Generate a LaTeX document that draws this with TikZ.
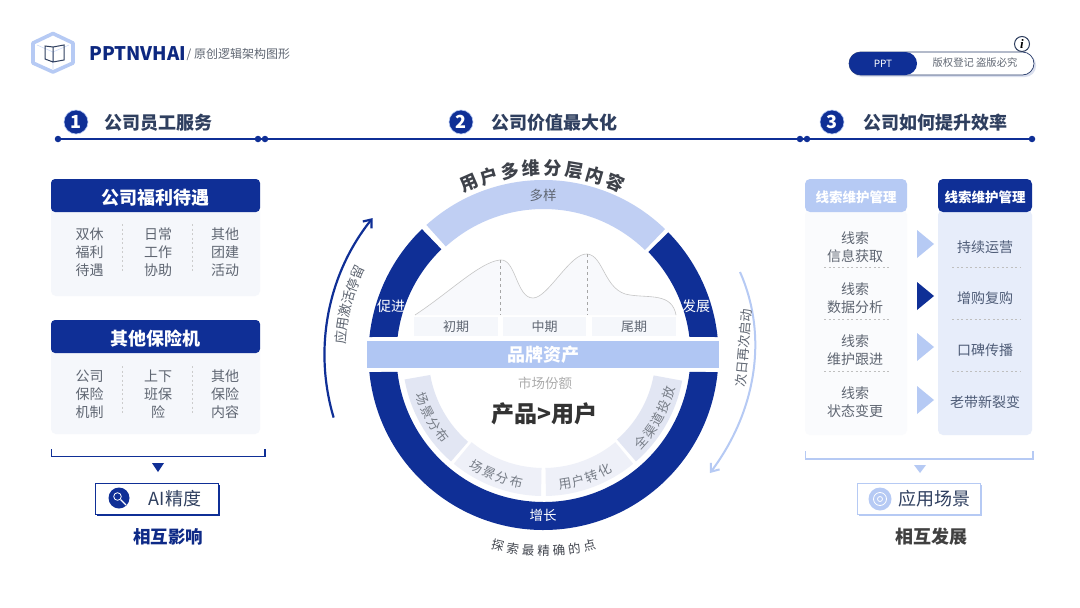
\documentclass[tikz,border=0pt]{standalone}
\usepackage{fontspec}
\setmainfont{Noto Sans CJK SC}
\newfontfamily\infofont{Liberation Serif}
\usetikzlibrary{arrows.meta}
\definecolor{brand}{HTML}{0F2F96}
\definecolor{brandlight}{HTML}{B6CAF4}
\definecolor{arcfill}{HTML}{C0CFF3}
\definecolor{barfill}{HTML}{B0C6F3}
\definecolor{cardfill}{HTML}{F5F7FB}
\definecolor{colfill}{HTML}{E7EDFA}
\definecolor{inkdark}{HTML}{2F3F5F}
\definecolor{inkgray}{HTML}{5F6672}
\newcommand{\px}[2]{\fontsize{#1}{#2}\selectfont}
% one rotated node per character, along a circle round the wheel centre
\newcommand{\arctext}[7]{%
  \foreach \ch [count=\k from 0] in {#7} {
    \pgfmathsetmacro{\ang}{#3+\k*#4}
    \node[#5,rotate=\ang+#6] (#1\k) at (\ang:#2) {\ch};
  }}
\tikzset{
  head/.style={fill=brand,text=white,rounded corners=4pt,font=\px{18}{22}\bfseries,minimum width=209pt,minimum height=33pt,inner sep=0,text height=20pt,text depth=2.2pt},
  body/.style={fill=cardfill,rounded corners=5pt,minimum width=209pt,inner sep=0},
  cell/.style={align=center,text=inkgray,font=\px{14}{18},inner sep=0},
  dot/.style={circle,fill=brand,minimum size=6.5pt,inner sep=0},
  num/.style={circle,fill=brand,draw=brandlight,line width=.6pt,text=white,minimum size=24pt,inner sep=0,font=\px{18}{20}\bfseries},
  title/.style={text=inkdark,font=\px{18}{20}\bfseries,inner sep=0},
  stage/.style={fill=cardfill,minimum height=19pt,inner sep=0,text=inkgray,font=\px{13}{15}},
  chip/.style={fill=white,inner sep=0,minimum width=123pt,minimum height=31pt,line width=.7pt},
  divide/.style={dash pattern=on 2pt off 2.5pt,line width=.5pt,draw=#1},
  sideh/.style={rounded corners=5pt,minimum height=33pt,inner sep=0,text=white,font=\px{13.5}{16}\bfseries,text height=15pt,text depth=1.7pt},
  wlabel/.style={inner sep=0,text=white,font=\px{13.5}{15}},
  seglabel/.style={inner sep=0,text=inkgray!85,font=\px{13}{15}},
}
\begin{document}
\begin{tikzpicture}[x=1pt,y=1pt,yscale=-1]
\useasboundingbox (0,0) rectangle (1080,608);
\fill[white] (0,0) rectangle (1080,608);
% logo
\draw[brandlight!70,line width=.6pt] (37,45) -- (53,52) -- (69,45) (53,52) -- (53,69);
\draw[brandlight,line width=3.6pt,line join=round] (53,33.5) -- (73,43) -- (73,63) -- (53,72) -- (33,63) -- (33,43) -- cycle;
\draw[inkdark,line width=1pt] (53,47) -- (64,45) -- (64,60) -- (53,62) -- cycle (53,47) -- (45,46) -- (45,59) -- (53,62);
\node[inner sep=0,anchor=west,text=brand!85!black,font=\px{18.7}{20}\bfseries] (brandname) at (89,54) {PPTNVHAI};
\node[inner sep=0,anchor=west,text=inkgray,font=\px{12}{13}] (subname) at ([yshift=1pt]brandname.east) {/ 原创逻辑架构图形};
% pill
\fill[brand!15,rounded corners=11pt] (851,54) rectangle (1036,77);
\node[draw=inkdark!80!brand,fill=white,rounded corners=11.5pt,minimum width=185pt,minimum height=23pt,inner sep=0,line width=.7pt] (pill) at (941.5,63.5) {};
\node[fill=brand,rounded corners=11.5pt,minimum width=68pt,minimum height=23pt,inner sep=0,text=white,font=\px{10}{12}] (pillppt) at (883,63.5) {PPT};
\node[inner sep=0,text=inkgray,font=\px{10.3}{12}] (pilltext) at (975,63) {版权登记 盗版必究};
\node[circle,draw=inkdark,fill=white,line width=1pt,minimum size=15pt,inner sep=0,font=\infofont\px{13}{13}\bfseries\itshape] (info) at (1022,44) {i};
% section rule
\node[dot] (d1) at (58,139) {};
\node[dot] (d2) at (258,139) {};
\node[dot] (d3) at (265,139) {};
\node[dot] (d4) at (800,139) {};
\node[dot] (d5) at (807,139) {};
\node[dot] (d6) at (1032,139) {};
\draw[brand,line width=1.5pt] (d1) -- (d6);
\node[num] (n1) at (76,122) {1};
\node[num] (n2) at (461,122) {2};
\node[num] (n3) at (832,122) {3};
\node[title,anchor=west] (t1) at (104.5,123) {公司员工服务};
\node[title,anchor=west] (t2) at (491,123) {公司价值最大化};
\node[title,anchor=west] (t3) at (863,123) {公司如何提升效率};
% left cards
\node[body,minimum height=90pt] (card1) at (155.5,251) {};
\node[head] (head1) at (155.5,195.5) {公司福利待遇};
\node[cell] (c11) at (89.5,252) {双休\\福利\\待遇};
\node[cell] (c12) at (158,252) {日常\\工作\\协助};
\node[cell] (c13) at (225,252) {其他\\团建\\活动};
\draw[divide=gray!40] (122.5,224) -- (122.5,272) (192.5,224) -- (192.5,272);
\node[body,minimum height=88pt] (card2) at (155.5,390) {};
\node[head] (head2) at (155.5,336.5) {其他保险机};
\node[cell] (c21) at (89.5,394) {公司\\保险\\机制};
\node[cell] (c22) at (158,394) {上下\\班保\\险};
\node[cell] (c23) at (225,394) {其他\\保险\\内容};
\draw[divide=gray!40] (122.5,366) -- (122.5,415) (192.5,366) -- (192.5,415);
\draw[brand,line width=1.2pt] (51.5,449) -- (51.5,456.5) -- (265,456.5) -- (265,449);
\fill[brand] (152,463) -- (164,463) -- (158,472) -- cycle;
\node[chip,fill=brand] (ai2) at (158.5,500.5) {};
\node[chip,draw=brand] (ai) at (156.5,498.5) {};
\node[circle,fill=brand,minimum size=21pt,inner sep=0] (aiicon) at (119,498) {};
\draw[white,line width=.8pt] (117.5,496.5) circle[radius=3.8];
\draw[white,line width=1.2pt] (120.5,499.5) -- (126,505);
\node[inner sep=0,text=inkdark,font=\px{18}{20}] (ailabel) at (175,499) {AI精度};
\node[inner sep=0,text=brand!90!black,font=\px{17.5}{19}\bfseries] (mutual1) at (168,537) {相互影响};
% wave chart
\fill[cardfill!70] (415,315) .. controls (450,292) and (480,262) .. (500,260) .. controls (516,258) and (516,298) .. (533,298) .. controls (548,298) and (570,253) .. (587,254) .. controls (604,255) and (604,292) .. (630,295) .. controls (650,298) and (672,293) .. (676,315) -- cycle;
\draw[gray!45,line width=.6pt] (415,315) .. controls (450,292) and (480,262) .. (500,260) .. controls (516,258) and (516,298) .. (533,298) .. controls (548,298) and (570,253) .. (587,254) .. controls (604,255) and (604,292) .. (630,295) .. controls (650,298) and (672,293) .. (676,315);
\draw[gray!70,dashed,line width=.5pt] (500,260) -- (500,315) (587,254) -- (587,315);
\node[stage,minimum width=84pt] (early) at (456,326.5) {初期};
\node[stage,minimum width=83pt] (mid) at (544.5,326.5) {中期};
\node[stage,minimum width=84pt] (late) at (634,326.5) {尾期};
% wheel
\begin{scope}[shift={(543.5,355)},yscale=-1]
\fill[brand] (174.1:175) arc[start angle=174.1,end angle=134,radius=175] -- (134:147) arc[start angle=134,end angle=172.9,radius=147] -- cycle;
\fill[brand] (5.9:175) arc[start angle=5.9,end angle=44.5,radius=175] -- (44.5:147) arc[start angle=44.5,end angle=7.1,radius=147] -- cycle;
\fill[arcfill] (132:175) arc[start angle=132,end angle=46,radius=175] -- (46:146) arc[start angle=46,end angle=132,radius=146] -- cycle;
\fill[brand] (185.6:175) arc[start angle=185.6,end angle=354.4,radius=175] -- (353.4:147) arc[start angle=353.4,end angle=186.6,radius=147] -- cycle;
\fill[brand!12] (190:141) arc[start angle=190,end angle=229,radius=141] -- (229:115) arc[start angle=229,end angle=190,radius=115] -- cycle;
\fill[brand!7] (230.5:141) arc[start angle=230.5,end angle=269,radius=141] -- (269:113) arc[start angle=269,end angle=230.5,radius=113] -- cycle;
\fill[brand!7] (271:141) arc[start angle=271,end angle=309.5,radius=141] -- (309.5:113) arc[start angle=309.5,end angle=271,radius=113] -- cycle;
\fill[brand!12] (311:141) arc[start angle=311,end angle=349.5,radius=141] -- (349.5:112) arc[start angle=349.5,end angle=311,radius=112] -- cycle;
\arctext{top}{187}{113.5}{-6.6}{inner sep=0,text=inkgray!65!black,font=\px{18}{20}\bfseries}{-90}{用,户,多,维,分,层,内,容}
\arctext{foot}{196}{256.5}{4.5}{inner sep=0,text=inkgray!70!black,font=\px{12.5}{14}}{90}{探,索,最,精,确,的,点}
\arctext{sa}{129.5}{200}{6.2}{seglabel}{90}{场,景,分,布}
\arctext{sb}{130}{239}{6.3}{seglabel}{90}{场,景,分,布}
\arctext{sc}{130.5}{279.5}{6.2}{seglabel}{90}{用,户,转,化}
\arctext{sd}{131}{318}{6.25}{seglabel}{90}{全,渠,道,投,放}
\arctext{stay}{203}{175}{-3.8}{inner sep=0,text=inkgray,font=\px{13.5}{15}}{-90}{应,用,激,活,停,留}
\coordinate (upa) at (196.6:219);
\draw[brand,line width=2.2pt,-{Straight Barb[length=7pt,width=11pt]}] (upa) arc[start angle=196.6,end angle=141.3,radius=219];
\end{scope}
\node[minimum width=352pt,minimum height=27pt,inner sep=0,fill=barfill,text=white,font=\px{18}{20}\bfseries] (assets) at (543,354.5) {品牌资产};
\node[wlabel,text=inkgray] (varied) at (543,195) {多样};
\node[wlabel,font=\px{14}{15}] (boost) at (391,306) {促进};
\node[wlabel,font=\px{14}{15}] (grow) at (696,306) {发展};
\node[wlabel] (rise) at (543,515) {增长};
\node[inner sep=0,text=gray!65,font=\px{13.5}{15}] (share) at (545,383) {市场份额};
\node[inner sep=0,text=black!80,font=\px{23}{25}\bfseries] (core) at (544,414) {产品>用户};
\coordinate (downa) at (740,272);
\coordinate (downb) at (710,473);
\draw[brandlight,line width=2pt,-{Straight Barb[length=7pt,width=11pt]}] (downa) .. controls (768,335) and (757,410) .. (downb);
\node[inner sep=0,rotate=85,text=inkgray,font=\px{13}{15}] (again) at (743.5,348) {次日再次启动};
% right panel
\node[fill=cardfill!55,rounded corners=5pt,minimum width=102pt,minimum height=225pt,inner sep=0] (leftcol) at (856,322.5) {};
\node[fill=colfill,rounded corners=5pt,minimum width=94pt,minimum height=225pt,inner sep=0] (rightcol) at (985,322.5) {};
\node[sideh,fill=brandlight,minimum width=102pt] (lhead) at (856,195.5) {线索维护管理};
\node[sideh,fill=brand,minimum width=94pt] (rhead) at (985,195.5) {线索维护管理};
\node[cell] (a1) at (855,247) {线索\\信息获取};
\node[cell] (a2) at (855,298) {线索\\数据分析};
\node[cell] (a3) at (855,350) {线索\\维护跟进};
\node[cell] (a4) at (855,402) {线索\\状态变更};
\node[cell,text=inkdark!85] (b1) at (985,247) {持续运营};
\node[cell,text=inkdark!85] (b2) at (985,298) {增购复购};
\node[cell,text=inkdark!85] (b3) at (985,350) {口碑传播};
\node[cell,text=inkdark!85] (b4) at (985,402) {老带新裂变};
\foreach \yy in {267,319,371} {
  \draw[divide=gray!50] (824,\yy) -- (890,\yy);
  \draw[divide=gray!50] (952,\yy) -- (1020,\yy);
}
\foreach \yy/\tone in {244/brandlight,296/brand,347/brandlight,400/brandlight}
  \fill[\tone] (917,\yy-14) -- (934,\yy) -- (917,\yy+14) -- cycle;
\draw[brandlight,line width=1.2pt] (805.5,451) -- (805.5,459) -- (1033,459) -- (1033,451);
\fill[brandlight] (914,465) -- (926,465) -- (920,473) -- cycle;
\node[chip,fill=brandlight] (scene2) at (920.5,500.5) {};
\node[chip,draw=brandlight] (scene) at (918.5,498.5) {};
\node[circle,fill=brandlight,minimum size=23pt,inner sep=0] (sceneicon) at (880,499) {};
\draw[white,line width=.8pt] (880,499) circle[radius=6.5] (880,499) circle[radius=2.5];
\node[inner sep=0,text=inkdark,font=\px{18}{20}] (scenelabel) at (934,499) {应用场景};
\node[inner sep=0,text=black!75,font=\px{18}{20}\bfseries] (mutual2) at (931,537) {相互发展};
\end{tikzpicture}
\end{document}
